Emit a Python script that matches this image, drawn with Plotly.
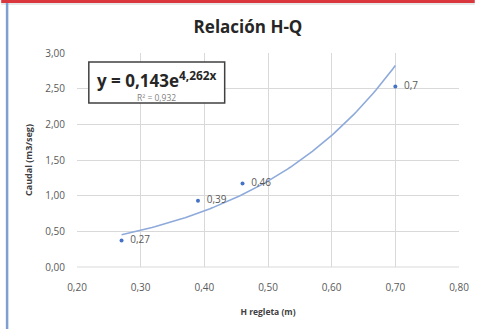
import plotly.graph_objects as go
import numpy as np

# Data
h_regleta = [0.27, 0.39, 0.46, 0.70]
caudal = [0.37, 0.93, 1.17, 2.53]
point_labels = ["0,27", "0,39", "0,46", "0,7"]
x_ticks = [0.20, 0.30, 0.40, 0.50, 0.60, 0.70, 0.80]
x_ticklabels = ["0,20", "0,30", "0,40", "0,50", "0,60", "0,70", "0,80"]
y_ticks = [0.0, 0.5, 1.0, 1.5, 2.0, 2.5, 3.0]
y_ticklabels = ["0,00", "0,50", "1,00", "1,50", "2,00", "2,50", "3,00"]
fit_a = 0.143
fit_b = 4.262
fit_r2 = "0,932"

W, H = 481, 329
ml, mr, mt, mb = 77, 16, 53, 62
pw, ph = W - ml - mr, H - mt - mb

def px_x(px):
    return (px - ml) / pw

def px_y(py):
    return (H - mb - py) / ph

FONT = "Open Sans"

fig = go.Figure()

# Exponential trendline (from displayed fit equation)
xt = np.linspace(min(h_regleta), max(h_regleta), 100)
yt = fit_a * np.exp(fit_b * xt)
fig.add_trace(go.Scatter(x=xt, y=yt, mode="lines",
                         line=dict(color="#8eaadb", width=1.6),
                         hoverinfo="skip", showlegend=False))

fig.add_trace(go.Scatter(x=h_regleta, y=caudal, mode="markers+text",
                         marker=dict(color="#4472c4", size=4),
                         text=["  " + t for t in point_labels],
                         textposition="middle right",
                         textfont=dict(family=FONT, size=10, color="#595959"),
                         showlegend=False))

fig.update_layout(
    width=W, height=H,
    margin=dict(l=ml, r=mr, t=mt, b=mb),
    paper_bgcolor="white", plot_bgcolor="white",
    font=dict(family=FONT, color="#595959"),
    title=dict(text="<b>Relación H-Q</b>", x=248 / W, xanchor="center",
               y=1 - 27 / H, yanchor="middle",
               font=dict(family=FONT, size=17, color="#262626")),
    xaxis=dict(range=[0.2, 0.8], tickvals=x_ticks, ticktext=x_ticklabels,
               showgrid=True, gridcolor="#d9d9d9", gridwidth=1,
               zeroline=False, showline=False, ticks="",
               ticklabelstandoff=13,
               tickfont=dict(family=FONT, size=10, color="#595959"),
               title=dict(text="<b>H regleta (m)</b>", standoff=16,
                          font=dict(family=FONT, size=8.5, color="#404040"))),
    yaxis=dict(range=[0, 3.0], tickvals=y_ticks, ticktext=y_ticklabels,
               showgrid=True, gridcolor="#d9d9d9", gridwidth=1,
               zeroline=False, showline=False, ticks="",
               ticklabelstandoff=11,
               tickfont=dict(family=FONT, size=10, color="#595959"),
               title=dict(text="<b>Caudal (m3/seg)</b>", standoff=11,
                          font=dict(family=FONT, size=9, color="#404040"))),
    shapes=[
        dict(type="line", xref="paper", yref="paper", x0=0, x1=1, y0=0, y1=0,
             line=dict(color="#d9d9d9", width=1)),
        # red bar at top
        dict(type="rect", xref="paper", yref="paper",
             x0=px_x(0), x1=px_x(W), y0=px_y(3), y1=px_y(0),
             line=dict(width=0), fillcolor="#d9363e", layer="above"),
        dict(type="line", xref="paper", yref="paper",
             x0=px_x(0), x1=px_x(W), y0=px_y(4), y1=px_y(4),
             line=dict(color="#cfcfcf", width=1)),
        # blue left line
        dict(type="line", xref="paper", yref="paper",
             x0=px_x(6), x1=px_x(6), y0=px_y(3), y1=px_y(H),
             line=dict(color="#7f9fd3", width=2.5)),
        # equation box
        dict(type="rect", xref="paper", yref="paper",
             x0=px_x(89), x1=px_x(227), y0=px_y(103), y1=px_y(62),
             line=dict(color="#404040", width=1.5), fillcolor="white",
             layer="above"),
    ],
    annotations=[
        dict(xref="paper", yref="paper", x=px_x(158), y=px_y(79),
             xanchor="center", yanchor="middle", showarrow=False,
             text="<b>y = 0,143e<sup>4,262x</sup></b>",
             font=dict(family=FONT, size=17, color="#262626")),
        dict(xref="paper", yref="paper", x=px_x(158), y=px_y(97),
             xanchor="center", yanchor="middle", showarrow=False,
             text="R² = " + fit_r2,
             font=dict(family=FONT, size=8.5, color="#7f7f7f")),
    ],
)

fig.write_html("out.html",
               config={"displayModeBar": False},
               post_script="document.body.style.margin='0';document.body.style.padding='0';")
